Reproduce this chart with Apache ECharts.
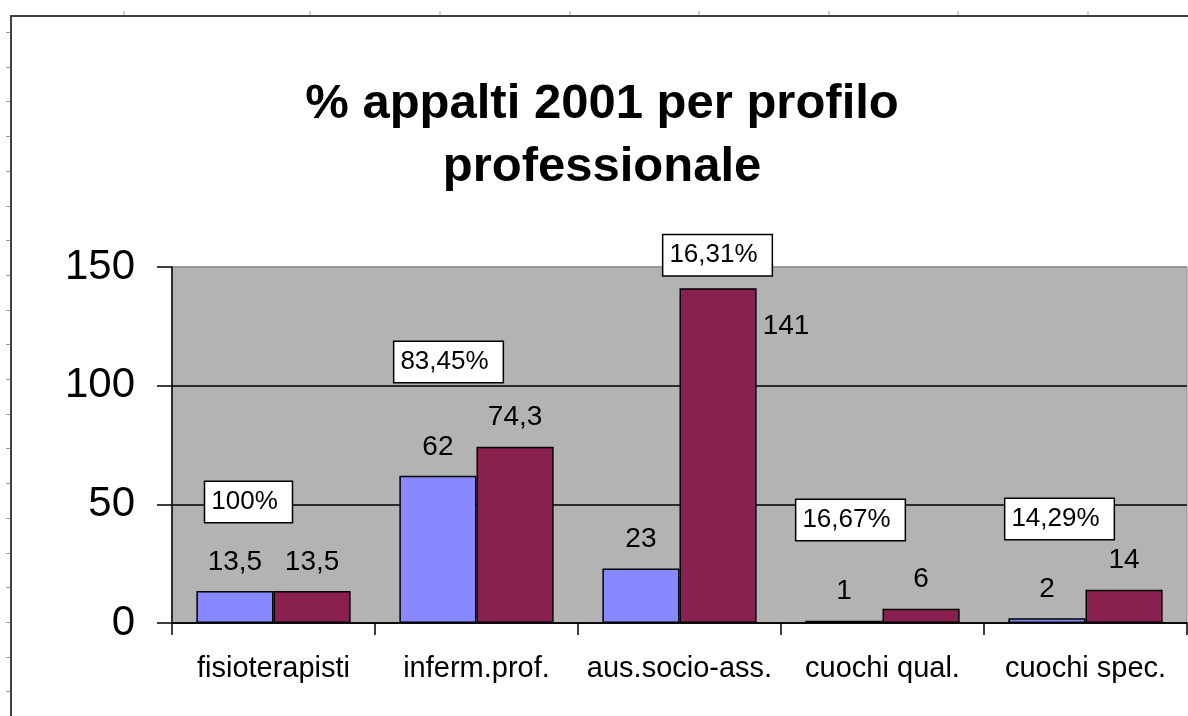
<!DOCTYPE html>
<html>
<head>
<meta charset="utf-8">
<script src="https://cdn.jsdelivr.net/npm/echarts@6/dist/echarts.min.js"></script>
<style>
html,body{margin:0;padding:0;background:#fff;}
#chart{width:1188px;height:716px;}
</style>
</head>
<body>
<div id="chart"></div>
<script>
// ---- data ----
var categories = ['fisioterapisti', 'inferm.prof.', 'aus.socio-ass.', 'cuochi qual.', 'cuochi spec.'];
var seriesA = [13.5, 62, 23, 1, 2];          // blue
var seriesB = [13.5, 74.3, 141, 6, 14];      // maroon
var pctLabels = ['100%', '83,45%', '16,31%', '16,67%', '14,29%'];
var yTicks = [0, 50, 100, 150];
var titleText = '% appalti 2001 per profilo\nprofessionale';

// ---- layout (label anchors, not data) ----
var pctAnchorY = [51, 110, 155, 43.4, 43.8];
var pctOffsetX = [-25, -28, 38, -32, -26];

function fmt(v){ return String(v).replace('.', ','); }

var chart = echarts.init(document.getElementById('chart'), null, {renderer:'canvas'});

var FONT = '"Liberation Sans", Arial, sans-serif';

var graphics = [];
// frame
graphics.push({type:'line', shape:{x1:11, y1:15, x2:11, y2:716}, style:{stroke:'#404040', lineWidth:2}, z:10});
graphics.push({type:'line', shape:{x1:10, y1:16, x2:1188, y2:16}, style:{stroke:'#404040', lineWidth:2}, z:10});
var topTicks = [124, 310, 440, 570, 699, 829, 958, 1088];
topTicks.forEach(function(x){
  graphics.push({type:'line', shape:{x1:x, y1:11, x2:x, y2:15}, style:{stroke:'#a0a0a0', lineWidth:1}, z:10});
});
for (var k = 0; k < 20; k++) {
  var yy = Math.round(32 + k * 34.7) + 0.5;
  graphics.push({type:'line', shape:{x1:6, y1:yy, x2:10, y2:yy}, style:{stroke:'#a0a0a0', lineWidth:1}, z:10});
}

var option = {
  backgroundColor: '#ffffff',
  animation: false,
  title: {
    text: titleText,
    left: 597,
    top: 68,
    textAlign: 'center',
    textStyle: {fontFamily: FONT, fontSize: 49, fontWeight: 'bold', color: '#000', lineHeight: 63}
  },
  grid: {
    left: 172, right: 1, top: 267, bottom: 93,
    show: true, backgroundColor: '#b3b3b3', borderColor: '#8c8c8c', borderWidth: 1
  },
  xAxis: {
    type: 'category',
    data: categories,
    axisLine: {show: true, lineStyle: {color: '#000', width: 1.5}},
    axisTick: {show: true, length: 12, alignWithLabel: false, lineStyle: {color: '#000', width: 1.5}},
    axisLabel: {fontFamily: FONT, fontSize: 29, color: '#000', margin: 31, interval: 0}
  },
  yAxis: {
    type: 'value',
    min: yTicks[0], max: yTicks[yTicks.length - 1], interval: yTicks[1] - yTicks[0],
    axisLine: {show: true, lineStyle: {color: '#000', width: 1.5}},
    axisTick: {show: true, length: 15, lineStyle: {color: '#000', width: 1.5}},
    axisLabel: {fontFamily: FONT, fontSize: 42, color: '#000', margin: 37},
    splitLine: {show: true, lineStyle: {color: ['#000', '#000', '#000', '#8c8c8c'], width: 1.5}}
  },
  series: [
    {
      type: 'bar',
      data: seriesA,
      barGap: '0%',
      barCategoryGap: '24%',
      itemStyle: {color: '#8888ff', borderColor: '#000', borderWidth: 1.5},
      label: {
        show: true, position: 'top', distance: 15,
        fontFamily: FONT, fontSize: 28, lineHeight: 28, color: '#000',
        formatter: function(p){ return fmt(p.value); }
      }
    },
    {
      type: 'bar',
      data: seriesB.map(function(v, i){
        var item = {value: v};
        if (i === 2) {
          item.label = {position: ['100%', 24], align: 'left', verticalAlign: 'top', offset: [6, 0]};
        }
        return item;
      }),
      barGap: '0%',
      barCategoryGap: '24%',
      itemStyle: {color: '#882050', borderColor: '#000', borderWidth: 1.5},
      label: {
        show: true, position: 'top', distance: 15,
        fontFamily: FONT, fontSize: 28, lineHeight: 28, color: '#000',
        formatter: function(p){ return fmt(p.value); }
      }
    },
    {
      type: 'scatter',
      symbolSize: 0,
      clip: false,
      z: 5,
      itemStyle: {opacity: 1},
      emphasis: {disabled: true},
      data: pctLabels.map(function(t, i){
        return {
          value: [categories[i], pctAnchorY[i]],
          label: {offset: [pctOffsetX[i], 0]}
        };
      }),
      label: {
        show: true, position: 'inside',
        fontFamily: FONT, fontSize: 26, lineHeight: 28, color: '#000', opacity: 1,
        backgroundColor: '#ffffff', borderColor: '#000', borderWidth: 1.5,
        padding: [6, 14, 6, 6],
        formatter: function(p){ return pctLabels[p.dataIndex]; }
      }
    }
  ],
  graphic: graphics
};
chart.setOption(option);
</script>
</body>
</html>
